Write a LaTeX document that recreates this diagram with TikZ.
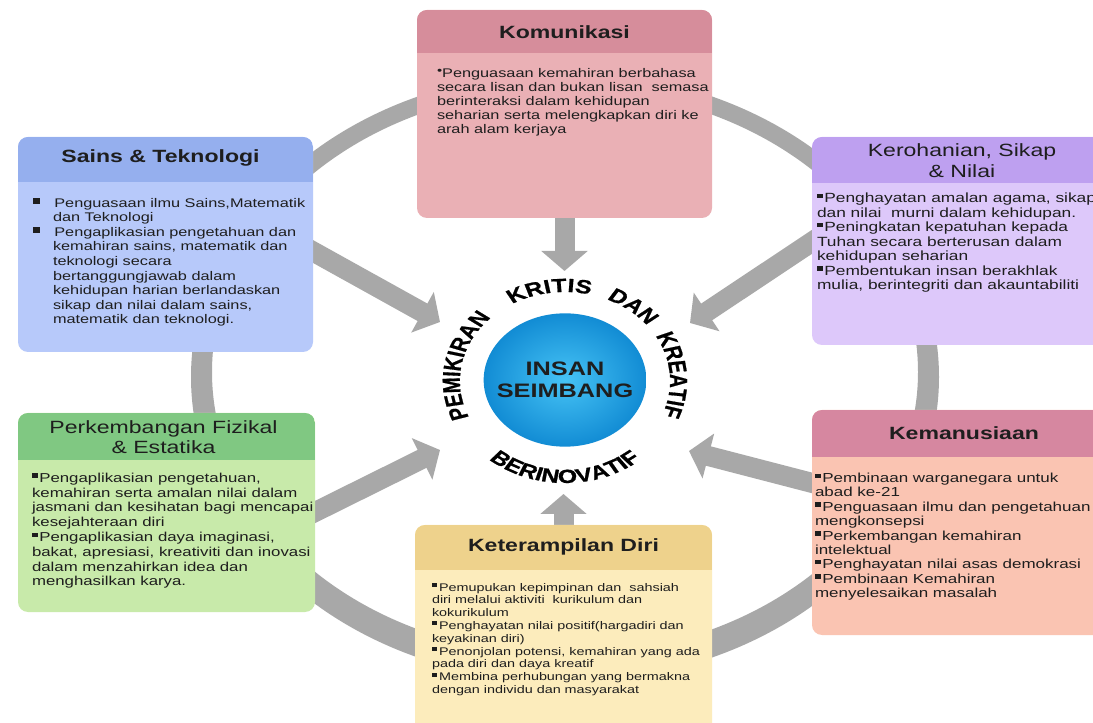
\documentclass[tikz,border=0pt]{standalone}
\usepackage{fontspec}
\setmainfont{Liberation Sans}
\newfontfamily\sx[FakeStretch=1.3]{Liberation Sans}
\newfontfamily\heavy[FakeBold=0.8]{Liberation Sans Bold}
\usetikzlibrary{shapes.geometric,arrows.meta,decorations.text,calc}
\pgfdeclarelayer{back}
\pgfsetlayers{back,main}
\definecolor{komH}{HTML}{D68D9B}
\definecolor{komB}{HTML}{EAB0B5}
\definecolor{sainsH}{HTML}{95AFEE}
\definecolor{sainsB}{HTML}{B7C9FA}
\definecolor{keroH}{HTML}{BEA0F0}
\definecolor{keroB}{HTML}{DDC8FA}
\definecolor{perkH}{HTML}{80C882}
\definecolor{perkB}{HTML}{C8EAAA}
\definecolor{kemaH}{HTML}{D687A0}
\definecolor{kemaB}{HTML}{FAC4B2}
\definecolor{keteH}{HTML}{EED28C}
\definecolor{keteB}{HTML}{FCECBC}
\definecolor{ringgray}{HTML}{A8A8A8}
\definecolor{blueIn}{RGB}{70,195,245}
\definecolor{blueOut}{RGB}{18,140,212}
\definecolor{txtc}{HTML}{1E1E1E}
\newcommand{\sqb}[3]{\raisebox{#1}{\rule{#2}{#3}}}
\newcommand{\bq}{\sqb{3.3pt}{4.3pt}{3.4pt}\hspace{1.2pt}}
\newcommand{\bqs}{\sqb{3pt}{3.8pt}{3pt}\hspace{1.5pt}}
\newcommand{\bqL}{\sqb{2.4pt}{5.5pt}{4.5pt}\hspace{10.5pt}}
\newcommand{\arcf}{\heavy\fontsize{14.3}{14.3}\selectfont}
\begin{document}
\begin{tikzpicture}[x=0.75pt,y=0.75pt,
  card/.style n args={3}{draw=none, fill=#1, rounded corners=7.5pt, inner sep=0pt, outer sep=0pt,
    path picture={\fill[#2, sharp corners] (path picture bounding box.north west) rectangle ([yshift=-#3]path picture bounding box.north east);}},
  hd/.style={inner sep=0pt, align=center, text=txtc, font=\sx\bfseries\fontsize{13.3}{15}\selectfont},
  hdr/.style={inner sep=0pt, align=center, text=txtc, font=\sx\fontsize{13.3}{15.5}\selectfont},
  txt/.style={inner sep=0pt, outer sep=0pt, anchor=north west, align=left, text=txtc},
  garrow/.style={draw=ringgray, line width=15pt, -{Triangle[width=34pt,length=15pt]}},
  arctext/.style={decorate, decoration={text along path, text={|\arcf|#1}, text align=center}}
]
\useasboundingbox (0,0) rectangle (1093,-723);
\clip (0,0) rectangle (1093,-723);

% boxes
\node[card={komB}{komH}{32.25pt}, minimum width=221.25pt, minimum height=156pt] (kom) at (564.5,-114) {};
\node[card={sainsB}{sainsH}{33.75pt}, minimum width=221.25pt, minimum height=161.25pt] (sains) at (165.5,-244.5) {};
\node[card={keroB}{keroH}{34.5pt}, minimum width=225pt, minimum height=156pt] (kero) at (962,-241) {};
\node[card={perkB}{perkH}{35.25pt}, minimum width=222.75pt, minimum height=149.25pt] (perk) at (166.5,-512.5) {};
\node[card={kemaB}{kemaH}{35.25pt}, minimum width=225pt, minimum height=168.75pt] (kema) at (962,-522.5) {};
\node[card={keteB}{keteH}{33.75pt}, minimum width=222.75pt, minimum height=165pt] (kete) at (563.5,-635) {};

% headers
\node[hd] (komT) at ($(kom.north)+(0,-22)$) {Komunikasi};
\node[hd] (sainsT) at ($(sains.north)+(-5,-21)$) {Sains \& Teknologi};
\node[hdr] (keroT) at ($(kero.north)+(0,-23.5)$) {Kerohanian, Sikap\\\& Nilai};
\node[hdr] (perkT) at ($(perk.north)+(-3,-24)$) {Perkembangan Fizikal\\\& Estatika};
\node[hd] (kemaT) at ($(kema.north)+(2,-23)$) {Kemanusiaan};
\node[hd] (keteT) at ($(kete.north)+(0,-22)$) {Keterampilan Diri};

% body texts
\node[txt, font=\sx\fontsize{9.4}{10.5}\selectfont] (komX) at ($(kom.north west)+(20,-58)$)
 {\raisebox{2.2pt}{\scalebox{0.9}{•}}Penguasaan kemahiran berbahasa\\secara lisan dan bukan lisan\ \ semasa\\berinteraksi dalam kehidupan\\seharian serta melengkapkan diri ke\\arah alam kerjaya};
\node[txt, font=\sx\fontsize{9.4}{10.95}\selectfont] (sainsX) at ($(sains.north west)+(15,-61)$)
 {\bqL Penguasaan ilmu Sains,Matematik\\\hspace*{15pt}dan Teknologi\\\bqL Pengaplikasian pengetahuan dan\\\hspace*{15pt}kemahiran sains, matematik dan\\\hspace*{15pt}teknologi secara\\\hspace*{15pt}bertanggungjawab dalam\\\hspace*{15pt}kehidupan harian berlandaskan\\\hspace*{15pt}sikap dan nilai dalam sains,\\\hspace*{15pt}matematik dan teknologi.};
\node[txt, font=\sx\fontsize{10}{10.9}\selectfont] (keroX) at ($(kero.north west)+(5,-56)$)
 {\bq Penghayatan amalan agama, sikap\\dan nilai\ \ murni dalam kehidupan.\\\bq Peningkatan kepatuhan kepada\\Tuhan secara berterusan dalam\\kehidupan seharian\\\bq Pembentukan insan berakhlak\\mulia, berintegriti dan akauntabiliti};
\node[txt, font=\sx\fontsize{9.7}{11.1}\selectfont] (perkX) at ($(perk.north west)+(14,-60)$)
 {\bq Pengaplikasian pengetahuan,\\kemahiran serta amalan nilai dalam\\jasmani dan kesihatan bagi mencapai\\kesejahteraan diri\\\bq Pengaplikasian daya imaginasi,\\bakat, apresiasi, kreativiti dan inovasi\\dalam menzahirkan idea dan\\menghasilkan karya.};
\node[txt, font=\sx\fontsize{9.8}{10.8}\selectfont] (kemaX) at ($(kema.north west)+(3,-63)$)
 {\bq Pembinaan warganegara untuk\\abad ke-21\\\bq Penguasaan ilmu dan pengetahuan\\mengkonsepsi\\\bq Perkembangan kemahiran\\intelektual\\\bq Penghayatan nilai asas demokrasi\\\bq Pembinaan Kemahiran\\menyelesaikan masalah};
\node[txt, font=\sx\fontsize{8.3}{9.6}\selectfont] (keteX) at ($(kete.north west)+(17,-58)$)
 {\bqs Pemupukan kepimpinan dan\ \ sahsiah\\diri melalui aktiviti\ \ kurikulum dan\\kokurikulum\\\bqs Penghayatan nilai positif(hargadiri dan\\keyakinan diri)\\\bqs Penonjolan potensi, kemahiran yang ada\\pada diri dan daya kreatif\\\bqs Membina perhubungan yang bermakna\\dengan individu dan masyarakat};

% centre
\node[ellipse, inner sep=0pt, minimum width=122pt, minimum height=100pt, inner color=blueIn, outer color=blueOut] (insan) at (565,-380) {};
\node[inner sep=0pt, align=center, text=txtc, font=\sx\bfseries\fontsize{14.6}{16.5}\selectfont] (insanT) at (insan.center) {INSAN\\SEIMBANG};

% curved words (drawn in an unstretched frame, then stretched like the rest)
\begin{scope}[transform canvas={xscale=1.3}]
\coordinate (c0) at (434.6,-381);
\path[arctext={PEMIKIRAN}] ($(c0)+(224:80.8 and 89)$) arc[start angle=224, end angle=114, x radius=80.8, y radius=89];
\path[arctext={KRITIS}] ($(c0)+(128:80.8 and 89)$) arc[start angle=128, end angle=68, x radius=80.8, y radius=89];
\path[arctext={DAN}] ($(c0)+(78:80.8 and 89)$) arc[start angle=78, end angle=28, x radius=80.8, y radius=89];
\path[arctext={KREATIF}] ($(c0)+(49:80.8 and 89)$) arc[start angle=49, end angle=-41, x radius=80.8, y radius=89];
\path[arctext={BERINOVATIF}] ($(c0)+(215:91.5 and 102)$) arc[start angle=215, end angle=325, x radius=91.5, y radius=102];
\end{scope}

% arrow tips
\coordinate (tT) at (564.5,-271);
\coordinate (tUL) at (440,-322);
\coordinate (tUR) at (690,-323);
\coordinate (tLL) at (440,-450);
\coordinate (tLR) at (689,-451);
\coordinate (tB) at (563.5,-494);

\begin{pgfonlayer}{back}
  \fill[white] (0,0) rectangle (1093,-723);
  \fill[ringgray, even odd rule] (565,-377) ellipse [x radius=374, y radius=305] (565,-372) ellipse [x radius=353, y radius=283];
  \draw[garrow] ([shift={(0,8)}]kom.south) -- (tT);
  \draw[garrow] ([shift={(-9,-2)}]sains.east) -- (tUL);
  \draw[garrow] ([shift={(8,4.5)}]kero.west) -- (tUR);
  \draw[garrow] ([shift={(-9,-4)}]perk.east) -- (tLL);
  \draw[garrow] ([shift={(10,37)}]kema.west) -- (tLR);
  \draw[garrow] ([shift={(0,-8)}]kete.north) -- (tB);
\end{pgfonlayer}
\end{tikzpicture}
\end{document}
